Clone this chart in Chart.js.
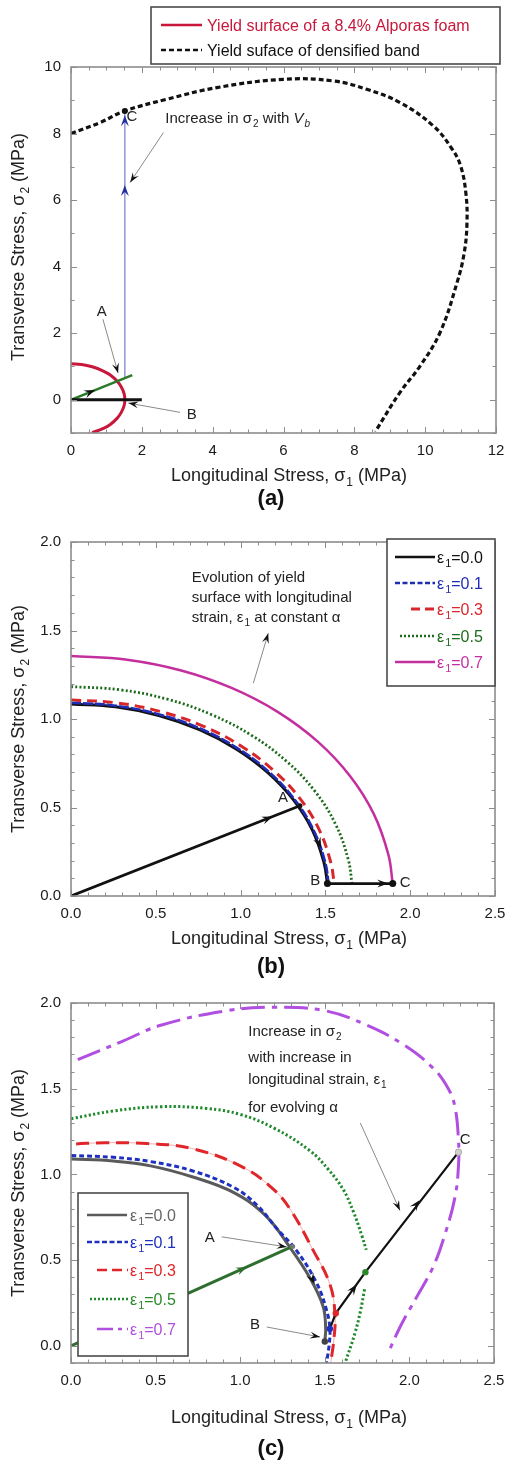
<!DOCTYPE html>
<html>
<head>
<meta charset="utf-8">
<title>Yield surface evolution</title>
<script src="https://cdn.jsdelivr.net/npm/chart.js@4.4.0/dist/chart.umd.min.js"></script>
<style>
  html, body { margin: 0; padding: 0; background: #fff; }
  #page { position: relative; width: 508px; height: 1460px; overflow: hidden; }
  #page canvas { position: absolute; left: 0; }
</style>
</head>
<body>
<div id="page">
  <canvas id="panelA" width="508" height="512" style="top:0"></canvas>
  <canvas id="panelB" width="508" height="466" style="top:512px"></canvas>
  <canvas id="panelC" width="508" height="482" style="top:978px"></canvas>
</div>
<script>
const FONT = '"Liberation Sans", Arial, Helvetica, sans-serif';

// ---- (a) foam and densified band yield surfaces, [sigma1, sigma2] in MPa
const aXTicks = [0, 2, 4, 6, 8, 10, 12];
const aYTicks = [0, 2, 4, 6, 8, 10];
const foamSurface = [[0, 1.08], [0.3, 1.06], [0.6, 0.99], [0.9, 0.87], [1.1, 0.75], [1.3, 0.56], [1.42, 0.38],
  [1.5, 0.18], [1.52, 0], [1.5, -0.18], [1.42, -0.38], [1.3, -0.56], [1.1, -0.75], [0.9, -0.87], [0.6, -0.99]];
const bandSurface = [[0, 8.0], [0.82, 8.33], [1.52, 8.68], [2.7, 9.03], [4.12, 9.38], [6.0, 9.63], [7.41, 9.58],
  [8.35, 9.33], [9.29, 8.93], [10.23, 8.23], [10.75, 7.55], [11.0, 7.03], [11.15, 6.2], [11.18, 5.3],
  [11.1, 4.4], [10.9, 3.52], [10.42, 2.02], [9.86, 1.02], [9.29, 0.22], [8.59, -0.96]];
const aLoadPath = [[0, 0], [1.73, 0.74]];
const aAxialPath = [[0, 0], [2.0, 0]];
const aBandRise = [[1.52, 0.68], [1.52, 8.62]];

// ---- (b) surfaces at constant alpha
const bXTicks = [0, 0.5, 1.0, 1.5, 2.0, 2.5];
const bYTicks = [0, 0.5, 1.0, 1.5, 2.0];
const bStrain0 = [[0, 1.085], [0.263, 1.069], [0.518, 1.02], [0.758, 0.94], [0.974, 0.831], [1.161, 0.697],
  [1.312, 0.543], [1.424, 0.371], [1.492, 0.188], [1.512, 0.07]];
const bStrain1 = [[0, 1.092], [0.264, 1.075], [0.521, 1.026], [0.761, 0.946], [0.978, 0.837], [1.166, 0.702],
  [1.318, 0.546], [1.43, 0.373], [1.499, 0.19], [1.519, 0.07]];
const bStrain3 = [[0, 1.108], [0.27, 1.091], [0.532, 1.041], [0.778, 0.96], [1.0, 0.849], [1.191, 0.712],
  [1.347, 0.554], [1.461, 0.379], [1.531, 0.192], [1.552, 0.07]];
const bStrain5 = [[0, 1.183], [0.288, 1.165], [0.568, 1.112], [0.83, 1.024], [1.067, 0.906], [1.272, 0.76],
  [1.438, 0.592], [1.56, 0.405], [1.635, 0.205], [1.657, 0.07]];
const bStrain7 = [[0, 1.356], [0.33, 1.335], [0.65, 1.274], [0.95, 1.174], [1.221, 1.039], [1.455, 0.872],
  [1.645, 0.678], [1.785, 0.464], [1.871, 0.235], [1.897, 0.07]];
const bLoadPath = [[0, 0], [1.35, 0.51]];
const bAxialPath = [[1.512, 0.07], [1.897, 0.07]];

// ---- (c) surfaces for evolving alpha
const cXTicks = [0, 0.5, 1.0, 1.5, 2.0, 2.5];
const cYTicks = [0, 0.5, 1.0, 1.5, 2.0];
const cStrain0 = [[0, 1.09], [0.25, 1.078], [0.47, 1.05], [0.72, 0.985], [0.96, 0.895], [1.15, 0.76],
  [1.29, 0.58], [1.41, 0.4], [1.49, 0.23], [1.505, 0.1], [1.5, 0.025]];
const cStrain1 = [[0, 1.11], [0.25, 1.1], [0.47, 1.075], [0.72, 1.02], [0.96, 0.925], [1.1, 0.82],
  [1.22, 0.68], [1.33, 0.56], [1.45, 0.37], [1.51, 0.21], [1.53, 0.1], [1.525, 0], [1.51, -0.1]];
const cStrain3 = [[0.03, 1.178], [0.2, 1.185], [0.45, 1.18], [0.72, 1.15], [1.02, 1.04], [1.2, 0.91],
  [1.3, 0.79], [1.43, 0.56], [1.53, 0.36], [1.56, 0.19], [1.555, 0.05], [1.535, -0.1]];
const cStrain5 = [[0, 1.325], [0.25, 1.37], [0.53, 1.395], [0.8, 1.385], [1.0, 1.35], [1.2, 1.27],
  [1.41, 1.14], [1.52, 1.03], [1.61, 0.91], [1.67, 0.78], [1.72, 0.64], [1.745, 0.56], null,
  [1.735, 0.33], [1.71, 0.2], [1.68, 0.08], [1.62, -0.1]];
const cStrain7 = [[0.04, 1.67], [0.3, 1.775], [0.53, 1.87], [0.92, 1.955], [1.2, 1.975], [1.5, 1.955],
  [1.75, 1.87], [1.96, 1.76], [2.14, 1.62], [2.23, 1.5], [2.27, 1.39], [2.29, 1.2], [2.29, 1.05],
  [2.27, 0.87], [2.21, 0.65], [2.14, 0.46], [2.04, 0.28], [1.95, 0.12], [1.87, -0.05]];
const cLoadPath = [[0, 0], [1.31, 0.58]];
const cRisePath = [[1.53, 0.1], [1.565, 0.19], [1.74, 0.43], [2.29, 1.13]];

const strainLabels = ['0.0', '0.1', '0.3', '0.5', '0.7'];

const X_TITLE = [['Longitudinal Stress, \u03c3', 'n'], ['1', 's'], [' (MPa)', 'n']];
const Y_TITLE = [['Transverse Stress, \u03c3', 'n'], ['2', 's'], [' (MPa)', 'n']];

// ---------- helpers ----------
function pts(arr) {
  return arr.map(p => p ? { x: p[0], y: p[1] } : { x: null, y: null });
}

function curve(arr, color, width, dash, order, tension) {
  return {
    data: pts(arr), showLine: true, spanGaps: false,
    borderColor: color, backgroundColor: color, borderWidth: width,
    borderDash: dash || [], pointRadius: 0, pointHoverRadius: 0,
    tension: tension === undefined ? 0.4 : tension,
    order: order === undefined ? 2 : order
  };
}

// text runs: [text, kind]; kind letters: n normal, s subscript, i italic, b bold
function runFont(kind, size) {
  const sub = kind.includes('s');
  return (kind.includes('i') ? 'italic ' : '') + (kind.includes('b') ? 'bold ' : '') +
    (sub ? Math.round(size * 0.68) : size) + 'px ' + FONT;
}

function runsWidth(ctx, runs, size) {
  let w = 0;
  runs.forEach(([t, k]) => { ctx.font = runFont(k, size); w += ctx.measureText(t).width + (k.includes('s') ? 1 : 0); });
  return w;
}

function drawRuns(ctx, runs, x, y, size, color, align) {
  const w = runsWidth(ctx, runs, size);
  let cx = align === 'center' ? x - w / 2 : align === 'right' ? x - w : x;
  const base = y + size * 0.36;
  ctx.save();
  ctx.fillStyle = color;
  ctx.textAlign = 'left';
  ctx.textBaseline = 'alphabetic';
  runs.forEach(([t, k]) => {
    ctx.font = runFont(k, size);
    const sub = k.includes('s');
    if (sub) cx += 1;
    ctx.fillText(t, cx, base + (sub ? size * 0.26 : 0));
    cx += ctx.measureText(t).width;
  });
  ctx.restore();
}

function arrowHead(ctx, x, y, ang, color, len, wid) {
  len = len || 11; wid = wid || 8;
  ctx.save();
  ctx.translate(x, y);
  ctx.rotate(ang);
  ctx.beginPath();
  ctx.moveTo(0, 0);
  ctx.lineTo(-len, -wid / 2);
  ctx.lineTo(-len * 0.62, 0);
  ctx.lineTo(-len, wid / 2);
  ctx.closePath();
  ctx.fillStyle = color;
  ctx.fill();
  ctx.restore();
}

// frame with inward major/minor ticks on all four sides
function drawFrame(chart, minor) {
  const { ctx, chartArea: a, scales: { x, y } } = chart;
  ctx.save();
  ctx.strokeStyle = '#8d8d8d';
  ctx.lineWidth = 1;
  const majorX = x.ticks.map(t => t.value), majorY = y.ticks.map(t => t.value);
  const isMajor = (list, v) => list.some(m => Math.abs(m - v) < 1e-6);
  ctx.beginPath();
  for (let k = Math.ceil(x.min / minor[0] - 1e-6); k * minor[0] <= x.max + 1e-6; k++) {
    const v = k * minor[0], p = Math.round(x.getPixelForValue(v)) + 0.5;
    const len = isMajor(majorX, v) ? 6 : 3.5;
    ctx.moveTo(p, a.bottom); ctx.lineTo(p, a.bottom - len);
    ctx.moveTo(p, a.top); ctx.lineTo(p, a.top + len);
  }
  for (let k = Math.ceil(y.min / minor[1] - 1e-6); k * minor[1] <= y.max + 1e-6; k++) {
    const v = k * minor[1], p = Math.round(y.getPixelForValue(v)) + 0.5;
    const len = isMajor(majorY, v) ? 6 : 3.5;
    ctx.moveTo(a.left, p); ctx.lineTo(a.left + len, p);
    ctx.moveTo(a.right, p); ctx.lineTo(a.right - len, p);
  }
  ctx.stroke();
  ctx.lineWidth = 1.6;
  ctx.strokeRect(a.left, a.top, a.right - a.left, a.bottom - a.top);
  ctx.restore();
}

function annotate(chart, notes) {
  const { ctx, scales: { x, y } } = chart;
  const px = p => [x.getPixelForValue(p[0]), y.getPixelForValue(p[1])];
  (notes.pointers || []).forEach(([from, to]) => {
    const [x0, y0] = px(from), [x1, y1] = px(to);
    ctx.save();
    ctx.strokeStyle = '#8a8a8a';
    ctx.lineWidth = 1;
    ctx.beginPath(); ctx.moveTo(x0, y0); ctx.lineTo(x1, y1); ctx.stroke();
    ctx.restore();
    arrowHead(ctx, x1, y1, Math.atan2(y1 - y0, x1 - x0), '#111', 10, 7);
  });
  (notes.heads || []).forEach(h => {
    const [x0, y0] = px(h.from), [x1, y1] = px(h.at);
    arrowHead(ctx, x1, y1, Math.atan2(y1 - y0, x1 - x0), h.color || '#111');
  });
  (notes.dots || []).forEach(d => {
    const [cx, cy] = px(d.at);
    ctx.save();
    ctx.beginPath(); ctx.arc(cx, cy, d.r || 3.2, 0, Math.PI * 2);
    ctx.fillStyle = d.color; ctx.fill();
    if (d.edge) { ctx.strokeStyle = d.edge; ctx.lineWidth = 1; ctx.stroke(); }
    ctx.restore();
  });
  (notes.labels || []).forEach(l => {
    const [lx, ly] = px(l.at);
    drawRuns(ctx, l.runs, lx, ly, l.size || 15, l.color || '#222', l.align || 'center');
  });
}

function drawLegend(ctx, lg) {
  const [x0, y0, x1, y1] = lg.box;
  ctx.save();
  ctx.fillStyle = '#fff';
  ctx.fillRect(x0, y0, x1 - x0, y1 - y0);
  ctx.strokeStyle = '#4a4a4a';
  ctx.lineWidth = 1.6;
  ctx.strokeRect(x0, y0, x1 - x0, y1 - y0);
  lg.rows.forEach(r => {
    ctx.beginPath();
    ctx.setLineDash(r.dash || []);
    ctx.strokeStyle = r.color;
    ctx.lineWidth = r.width;
    ctx.moveTo(r.x0, r.y); ctx.lineTo(r.x1, r.y);
    ctx.stroke();
    ctx.setLineDash([]);
    drawRuns(ctx, r.runs, lg.textX, r.y, lg.size, r.textColor || r.color, 'left');
  });
  ctx.restore();
}

function strainRuns(i) {
  return [['\u03b5', 'n'], ['1', 's'], ['=' + strainLabels[i], 'n']];
}

function axis(range, tickList, fmt, dir) {
  return {
    type: 'linear', min: range[0], max: range[1],
    afterBuildTicks: s => { s.ticks = tickList.map(v => ({ value: v })); },
    afterFit: s => {
      // fixed axis boxes; the outer padding alone sets the plot area
      if (dir === 'x') { s.height = 30; s.paddingLeft = 0; s.paddingRight = 0; }
      else { s.width = 50; s.paddingTop = 0; s.paddingBottom = 0; }
    },
    grid: { display: false, drawTicks: false },
    border: { display: false },
    ticks: {
      autoSkip: false, maxRotation: 0, padding: dir === 'x' ? 9 : 10,
      color: '#1a1a1a', font: { family: FONT, size: 15 },
      callback: v => fmt(v)
    }
  };
}

function makePanel(id, cfg) {
  return new Chart(document.getElementById(id), {
    type: 'scatter',
    data: { datasets: cfg.datasets },
    options: {
      responsive: false,
      animation: false,
      events: [],
      layout: { padding: cfg.padding, autoPadding: false },
      plugins: { legend: { display: false }, tooltip: { enabled: false } },
      scales: {
        x: axis(cfg.xRange, cfg.xTicks, cfg.fmt, 'x'),
        y: axis(cfg.yRange, cfg.yTicks, cfg.fmt, 'y')
      }
    },
    plugins: [{
      id: id + 'Decor',
      afterDraw(chart) {
        const ctx = chart.ctx;
        drawFrame(chart, cfg.minor);
        annotate(chart, cfg.notes);
        drawRuns(ctx, X_TITLE, 289, cfg.xTitleY, 18, '#222', 'center');
        ctx.save();
        ctx.translate(18, cfg.yTitleY);
        ctx.rotate(-Math.PI / 2);
        drawRuns(ctx, Y_TITLE, 0, 0, 18, '#222', 'center');
        ctx.restore();
        drawRuns(ctx, [[cfg.tag, 'b']], 271, cfg.tagY, 22, '#111', 'center');
        drawLegend(ctx, cfg.legend);
      }
    }]
  });
}

const int = v => String(Math.round(v));
const one = v => v.toFixed(1);

// ---------- (a) ----------
makePanel('panelA', {
  xRange: [0, 12], yRange: [-1, 10], xTicks: aXTicks, yTicks: aYTicks, fmt: int,
  minor: [0.5, 1],
  padding: { left: 21, right: 12, top: 67, bottom: 49 },
  xTitleY: 475, yTitleY: 247, tag: '(a)', tagY: 497,
  datasets: [
    curve(aAxialPath, '#111', 3, [], 0, 0),
    curve(aLoadPath, '#2b7a2b', 2.5, [], 0, 0),
    curve(aBandRise, '#9096d6', 1.5, [], 1, 0),
    curve(foamSurface, '#c8173a', 3, [], 2),
    curve(bandSurface, '#111', 3.2, [5, 3], 2)
  ],
  notes: {
    pointers: [[[0.9, 2.42], [1.33, 0.8]], [[3.08, -0.38], [1.62, -0.1]], [[2.61, 8.03], [1.67, 6.53]]],
    heads: [
      { at: [0.68, 0.29], from: [0, 0] },
      { at: [1.52, 6.45], from: [1.52, 5], color: '#1f2f9f' },
      { at: [1.52, 8.55], from: [1.52, 7], color: '#1f2f9f' }
    ],
    dots: [{ at: [1.52, 8.68], color: '#111', r: 3 }],
    labels: [
      { at: [0.87, 2.67], runs: [['A', 'n']] },
      { at: [3.41, -0.43], runs: [['B', 'n']] },
      { at: [1.72, 8.53], runs: [['C', 'n']] },
      { at: [2.66, 8.49], align: 'left', runs: [['Increase in \u03c3', 'n'], ['2', 's'], [' with ', 'n'], ['V', 'i'], ['b', 'is']] }
    ]
  },
  legend: {
    box: [151, 7, 500, 64], textX: 207, size: 16,
    rows: [
      { y: 25, x0: 161, x1: 202, color: '#c8173a', width: 2.5, runs: [['Yield surface of a 8.4% Alporas foam', 'n']] },
      { y: 50, x0: 161, x1: 202, color: '#111', width: 2.5, dash: [5, 3], runs: [['Yield suface of densified band', 'n']] }
    ]
  }
});

// ---------- (b) ----------
makePanel('panelB', {
  xRange: [0, 2.5], yRange: [0, 2], xTicks: bXTicks, yTicks: bYTicks, fmt: one,
  minor: [0.1, 0.1],
  padding: { left: 21, right: 13, top: 30, bottom: 52 },
  xTitleY: 426, yTitleY: 207, tag: '(b)', tagY: 453,
  datasets: [
    curve(bLoadPath, '#111', 2.8, [], 0, 0),
    curve(bAxialPath, '#111', 2.8, [], 0, 0),
    curve(bStrain1, '#1f2db5', 2.6, [10, 2], 1),
    curve(bStrain3, '#d8262a', 3, [10, 6], 1),
    curve(bStrain5, '#1d6b1d', 2.8, [2, 2.2], 1),
    curve(bStrain7, '#c42f9e', 2.5, [], 1),
    curve(bStrain0, '#111', 3, [], 2)
  ],
  notes: {
    pointers: [[[1.075, 1.202], [1.163, 1.484]]],
    heads: [
      { at: [1.19, 0.449], from: [0, 0] },
      { at: [1.475, 0.27], from: [1.43, 0.37] },
      { at: [1.87, 0.07], from: [1.5, 0.07] }
    ],
    dots: [
      { at: [1.35, 0.51], color: '#111', r: 2.5 },
      { at: [1.512, 0.07], color: '#111', r: 3.5 },
      { at: [1.897, 0.07], color: '#111', r: 3.5 }
    ],
    labels: [
      { at: [1.25, 0.56], runs: [['A', 'n']] },
      { at: [1.44, 0.09], runs: [['B', 'n']] },
      { at: [1.97, 0.08], runs: [['C', 'n']] },
      { at: [0.712, 1.804], align: 'left', runs: [['Evolution of yield', 'n']] },
      { at: [0.712, 1.691], align: 'left', runs: [['surface with longitudinal', 'n']] },
      { at: [0.712, 1.578], align: 'left', runs: [['strain, \u03b5', 'n'], ['1', 's'], [' at constant \u03b1', 'n']] }
    ]
  },
  legend: {
    box: [387, 27, 495, 174], textX: 437, size: 16,
    rows: [
      { y: 45, x0: 395, x1: 435, color: '#111', width: 2.5, runs: strainRuns(0) },
      { y: 71, x0: 395, x1: 435, color: '#1f2db5', width: 2.5, dash: [5, 2.5], runs: strainRuns(1) },
      { y: 97, x0: 411, x1: 435, color: '#d8262a', width: 2.8, dash: [9, 5], runs: strainRuns(2) },
      { y: 124, x0: 400, x1: 435, color: '#1d6b1d', width: 2.5, dash: [2, 2], runs: strainRuns(3) },
      { y: 150, x0: 395, x1: 435, color: '#c42f9e', width: 2.5, runs: strainRuns(4) }
    ]
  }
});

// ---------- (c) ----------
makePanel('panelC', {
  xRange: [0, 2.5], yRange: [-0.1, 2], xTicks: cXTicks, yTicks: cYTicks, fmt: one,
  minor: [0.1, 0.1],
  padding: { left: 21, right: 14, top: 25, bottom: 67 },
  xTitleY: 439, yTitleY: 205, tag: '(c)', tagY: 469,
  datasets: [
    curve(cRisePath, '#111', 2.2, [], 0, 0),
    curve(cLoadPath, '#2e6e2e', 3, [], 0, 0),
    curve(cStrain1, '#1e30c0', 3, [5, 3], 1),
    curve(cStrain3, '#e0262a', 3, [13, 7], 1),
    curve(cStrain3, '#f08a8a', 0.7, [], 3),
    curve(cStrain5, '#1f8a2c', 3, [2.2, 2.3], 1),
    curve(cStrain7, '#b04fe0', 3, [24, 7, 5, 7], 1),
    curve(cStrain0, '#5a5a5a', 3, [], 2)
  ],
  notes: {
    pointers: [
      [[0.89, 0.636], [1.275, 0.577]],
      [[1.157, 0.11], [1.472, 0.052]],
      [[1.71, 1.3], [1.944, 0.79]]
    ],
    heads: [
      { at: [1.04, 0.46], from: [0, 0], color: '#2e6e2e' },
      { at: [1.44, 0.36], from: [1.41, 0.42] },
      { at: [1.69, 0.36], from: [1.565, 0.19] },
      { at: [2.06, 0.85], from: [1.74, 0.43] }
    ],
    dots: [
      { at: [1.31, 0.58], color: '#777', r: 2.5 },
      { at: [1.5, 0.025], color: '#444', r: 3.2 },
      { at: [1.53, 0.1], color: '#1e30c0', r: 3.2 },
      { at: [1.565, 0.19], color: '#e0262a', r: 3.2 },
      { at: [1.74, 0.43], color: '#2a8a2a', r: 3.2 },
      { at: [2.29, 1.13], color: '#d0d0d0', edge: '#aaa', r: 3.2 }
    ],
    labels: [
      { at: [0.82, 0.636], runs: [['A', 'n']] },
      { at: [1.087, 0.13], runs: [['B', 'n']] },
      { at: [2.33, 1.209], runs: [['C', 'n']] },
      { at: [1.048, 1.841], align: 'left', runs: [['Increase in \u03c3', 'n'], ['2', 's']] },
      { at: [1.048, 1.685], align: 'left', runs: [['with increase in', 'n']] },
      { at: [1.048, 1.559], align: 'left', runs: [['longitudinal strain, \u03b5', 'n'], ['1', 's']] },
      { at: [1.048, 1.394], align: 'left', runs: [['for evolving \u03b1', 'n']] }
    ]
  },
  legend: {
    box: [78, 215, 188, 378], textX: 130, size: 16,
    rows: [
      { y: 237, x0: 87, x1: 127, color: '#5a5a5a', width: 2.5, textColor: '#666', runs: strainRuns(0) },
      { y: 264, x0: 87, x1: 128, color: '#1e30c0', width: 2.5, dash: [5, 2.5], runs: strainRuns(1) },
      { y: 292, x0: 97, x1: 128, color: '#e0262a', width: 2.5, dash: [10, 5], runs: strainRuns(2) },
      { y: 321, x0: 90, x1: 128, color: '#1f8a2c', width: 2.5, dash: [2, 2], textColor: '#2a8a2a', runs: strainRuns(3) },
      { y: 351, x0: 97, x1: 128, color: '#b04fe0', width: 2.5, dash: [16, 5, 4, 5], runs: strainRuns(4) }
    ]
  }
});
</script>
</body>
</html>
